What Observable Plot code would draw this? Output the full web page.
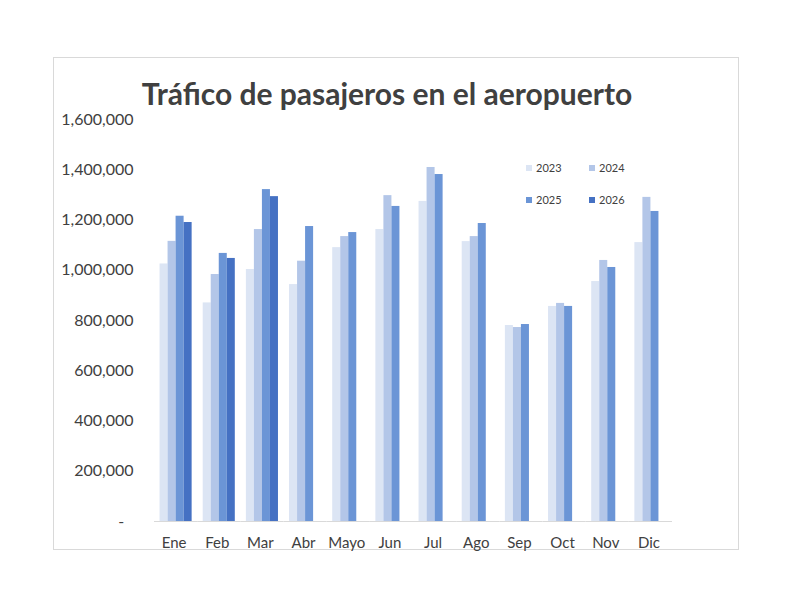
<!DOCTYPE html>
<html><head><meta charset="utf-8">
<script src="https://cdn.jsdelivr.net/npm/d3@7"></script>
<script src="https://cdn.jsdelivr.net/npm/@observablehq/plot@0.6"></script>
<style>
html,body{margin:0;padding:0;background:#fff;}
#wrap{position:relative;width:792px;height:612px;font-family:Lato,"Liberation Sans",sans-serif;color:#404040;}
#frame{position:absolute;left:53px;top:57px;width:686px;height:493px;border:1px solid #d9d9d9;box-sizing:border-box;}
#title{position:absolute;left:0;width:774px;top:73px;text-align:center;font-size:30px;font-weight:bold;color:#404040;margin:0;line-height:40px;}
#legend{position:absolute;left:526px;top:161px;font-size:11px;color:#404040;}
.li{position:absolute;white-space:nowrap;line-height:14px;}
.sw{display:inline-block;width:6px;height:6px;margin-right:4px;vertical-align:1px;}
#chart{position:absolute;left:0;top:0;}
</style></head>
<body>
<div id="wrap">
  <div id="frame"></div>
  <div id="chart"></div>
  <h1 id="title">Tráfico de pasajeros en el aeropuerto</h1>
  <div id="legend"></div>
</div>
<script>
const months = ["Ene","Feb","Mar","Abr","Mayo","Jun","Jul","Ago","Sep","Oct","Nov","Dic"];
const years = ["2023","2024","2025","2026"];
const colors = ["#dce5f4","#b3c6e8","#6b95d6","#4571c3"];
const v2023 = [1025000, 870000, 1003000, 943000, 1090000, 1162000, 1274000, 1114000, 780000, 856000, 955000, 1110000];
const v2024 = [1115000, 983000, 1162000, 1036000, 1134000, 1297000, 1409000, 1134000, 772000, 868000, 1039000, 1290000];
const v2025 = [1215000, 1067000, 1321000, 1174000, 1150000, 1254000, 1381000, 1186000, 784000, 856000, 1011000, 1234000];
const v2026 = [1190000, 1047000, 1293000, null, null, null, null, null, null, null, null, null];
const yTicks = [0, 200000, 400000, 600000, 800000, 1000000, 1200000, 1400000, 1600000];

const series = [v2023, v2024, v2025, v2026];
const data = [];
months.forEach((m, i) => {
  years.forEach((y, j) => {
    const v = series[j][i];
    if (v != null) data.push({month: m, year: y, value: v});
  });
});

const fmt = d3.format(",");
const chart = Plot.plot({
  width: 792,
  height: 612,
  marginTop: 119,
  marginBottom: 91,
  marginLeft: 154,
  marginRight: 120,
  style: {fontFamily: "Lato, 'Liberation Sans', sans-serif", color: "#404040", background: "transparent"},
  fx: {domain: months, padding: 0, round: false, label: null},
  x: {domain: years, paddingInner: 0, paddingOuter: 0.69, round: false, axis: null},
  y: {domain: [0, 1600000], label: null},
  color: {domain: years, range: colors},
  marks: [
    Plot.barY(data, {fx: "month", x: "year", y: "value", fill: "year", insetLeft: 0, insetRight: 0}),
    Plot.ruleY([0], {stroke: "#d9d9d9", strokeWidth: 1}),
    Plot.axisY({ticks: yTicks, tickSize: 0, tickPadding: 21, label: null, fontSize: 16,
      tickFormat: d => d === 0 ? "-\u2007" : fmt(d)}),
    Plot.axisFx({tickSize: 0, tickPadding: 16, label: null, fontSize: 15, anchor: "bottom", dx: -2})
  ]
});
document.getElementById("chart").appendChild(chart);

const legend = document.getElementById("legend");
const pos = [[0,0],[63,0],[0,32],[63,32]];
years.forEach((y, j) => {
  const d = document.createElement("div");
  d.className = "li";
  d.style.left = pos[j][0] + "px";
  d.style.top = pos[j][1] + "px";
  d.innerHTML = `<span class="sw" style="background:${colors[j]}"></span>${y}`;
  legend.appendChild(d);
});
</script>
</body></html>
